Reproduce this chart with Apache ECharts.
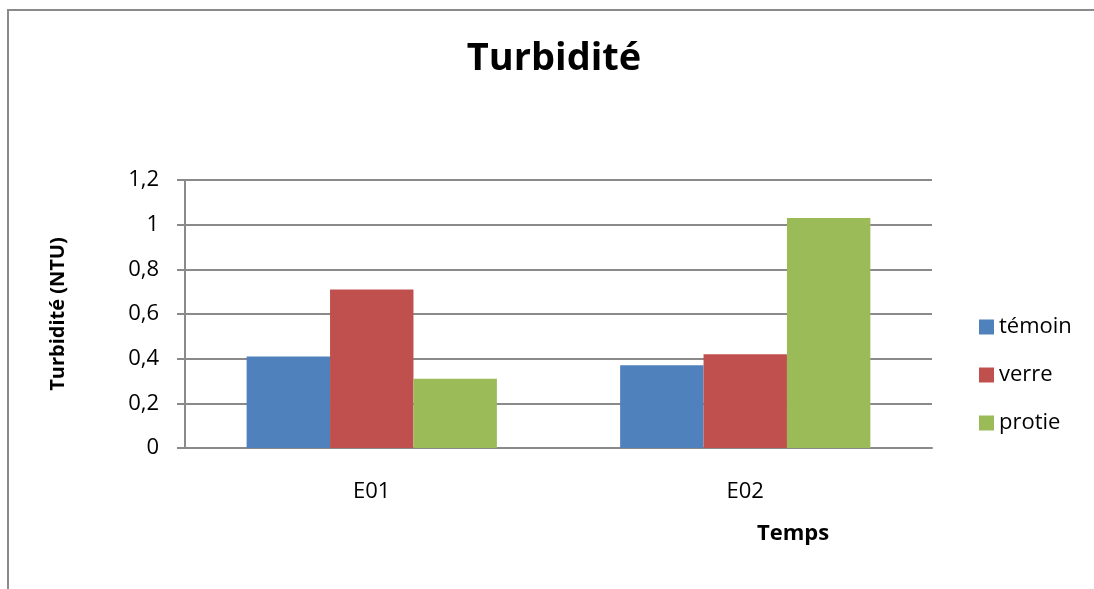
<!DOCTYPE html>
<html><head><meta charset="utf-8">
<script src="https://cdn.jsdelivr.net/npm/echarts@6/dist/echarts.min.js"></script>
<style>html,body{margin:0;padding:0;background:#fff}#c{width:1094px;height:589px}</style>
</head><body><div id="c"></div>
<script>
var categories = ['E01', 'E02'];
var seriesNames = ['témoin', 'verre', 'protie'];
var temoin = [0.41, 0.37];
var verre = [0.71, 0.42];
var protie = [0.31, 1.03];
var yTicks = [0, 0.2, 0.4, 0.6, 0.8, 1, 1.2];

var FONT = '"Open Sans", "Noto Sans", sans-serif';
var chart = echarts.init(document.getElementById('c'));
chart.setOption({
  animation: false,
  textStyle: {fontFamily: FONT},
  title: [
    {text: 'Turbidité', left: 549, top: 35, textAlign: 'center',
     textStyle: {fontSize: 38, fontWeight: 'bold', color: '#000', fontFamily: FONT}},
    {text: 'Temps', left: 788, top: 518, textAlign: 'center',
     textStyle: {fontSize: 22, fontWeight: 'bold', color: '#000', fontFamily: FONT}}
  ],
  graphic: [
    {type: 'polyline', shape: {points: [[8, 589], [8, 10], [1094, 10]]},
     style: {stroke: '#8a8a8a', lineWidth: 2, fill: null}}
  ],
  legend: {
    orient: 'vertical', left: 974, top: 311,
    itemWidth: 15, itemHeight: 15, itemGap: 26,
    icon: 'rect',
    textStyle: {fontSize: 22, color: '#000', fontFamily: FONT},
    data: seriesNames
  },
  grid: {left: 185, right: 162, top: 180, bottom: 141},
  xAxis: {
    type: 'category', data: categories,
    axisLine: {lineStyle: {color: '#8a8a8a', width: 2}},
    axisTick: {show: false},
    axisLabel: {fontSize: 22, color: '#000', margin: 33, fontFamily: FONT}
  },
  yAxis: {
    type: 'value', min: 0, max: 1.2, interval: 0.2,
    name: 'Turbidité (NTU)', nameLocation: 'middle', nameGap: 117,
    nameTextStyle: {fontSize: 20, fontWeight: 'bold', color: '#000', fontFamily: FONT},
    axisLine: {show: true, lineStyle: {color: '#8a8a8a', width: 2}},
    axisTick: {show: true, length: 8, lineStyle: {color: '#8a8a8a', width: 2}},
    splitLine: {lineStyle: {color: '#8a8a8a', width: 2}},
    axisLabel: {fontSize: 22, color: '#000', margin: 26, fontFamily: FONT,
      formatter: function (v) {
        var t = yTicks.find(function (x) { return Math.abs(x - v) < 1e-9; });
        return String(t !== undefined ? t : v).replace('.', ',');
      }}
  },
  series: [
    {name: seriesNames[0], type: 'bar', data: temoin, itemStyle: {color: '#4F81BD'}, barGap: '0%', barCategoryGap: '33%'},
    {name: seriesNames[1], type: 'bar', data: verre, itemStyle: {color: '#C0504D'}, barGap: '0%', barCategoryGap: '33%'},
    {name: seriesNames[2], type: 'bar', data: protie, itemStyle: {color: '#9BBB59'}, barGap: '0%', barCategoryGap: '33%'}
  ]
});
</script></body></html>
